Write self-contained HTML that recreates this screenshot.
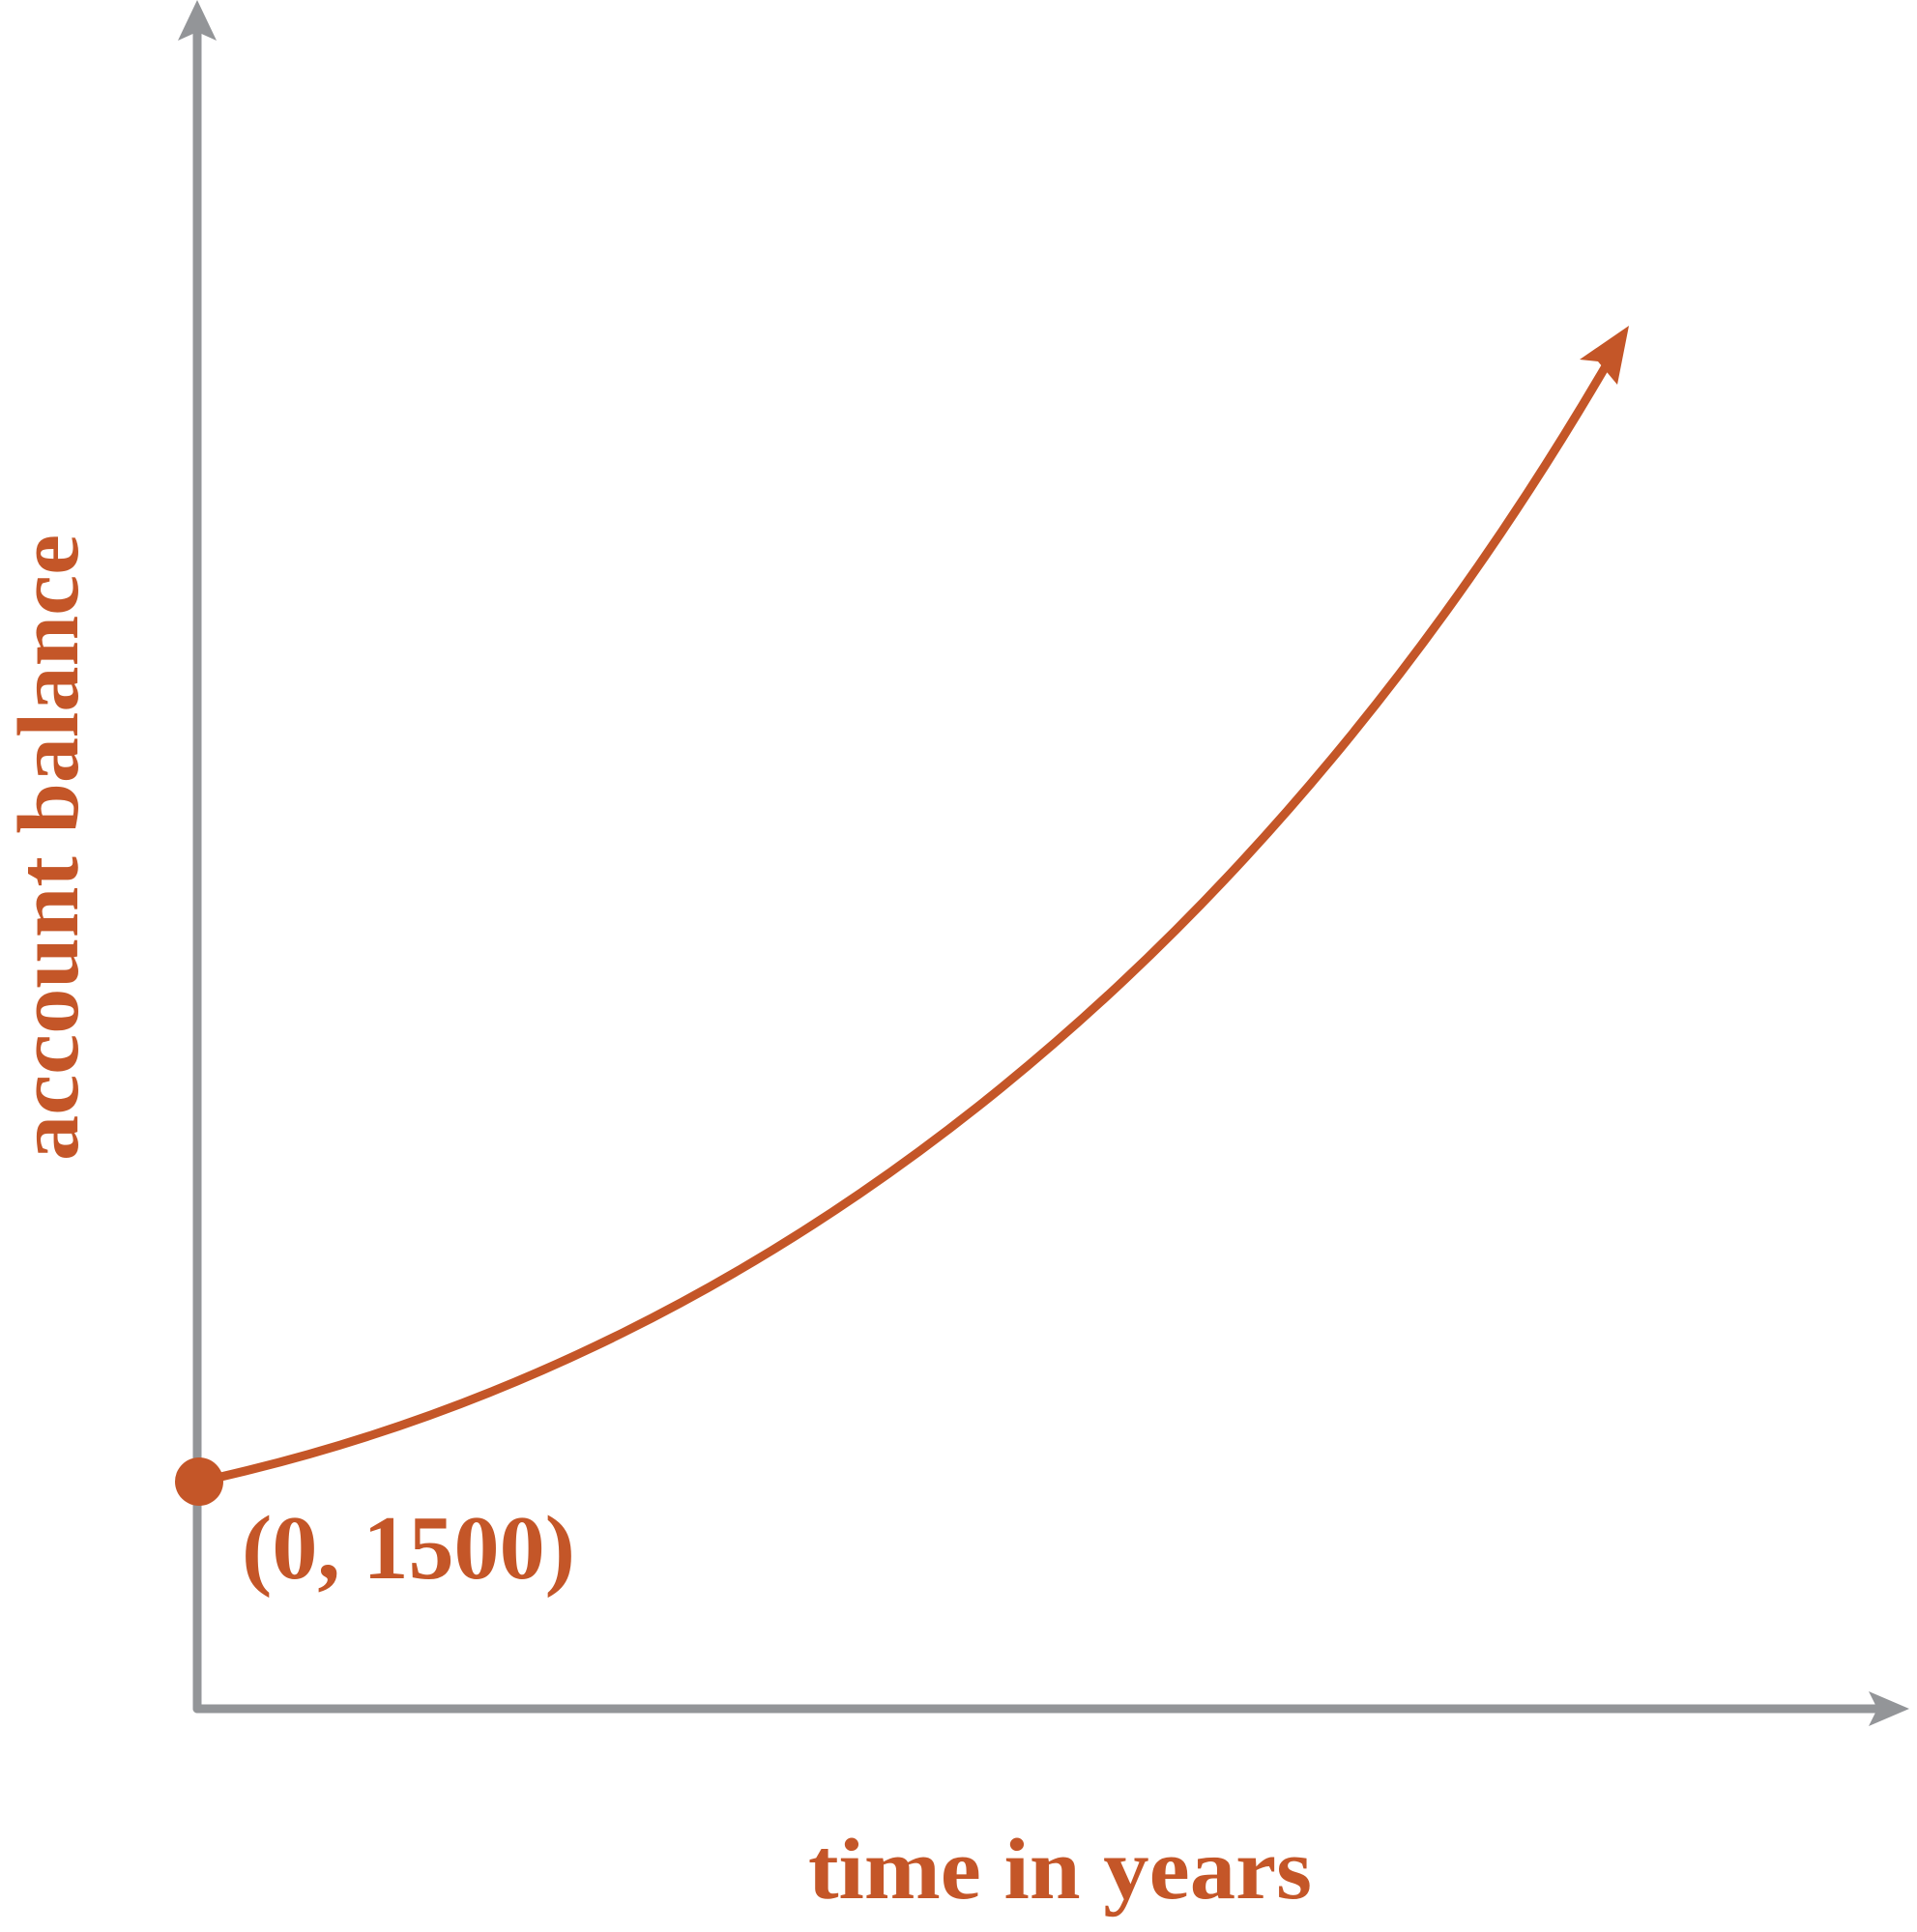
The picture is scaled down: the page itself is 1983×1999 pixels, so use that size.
<!DOCTYPE html>
<html><head><meta charset="utf-8"><style>html,body{margin:0;padding:0;background:#fff}svg{display:block}</style></head>
<body>
<svg width="1983" height="1999" viewBox="0 0 1983 1999" xmlns="http://www.w3.org/2000/svg">
<g stroke="#939598" stroke-width="9" fill="none" stroke-linecap="round">
<line x1="204" y1="30" x2="204" y2="1768"/>
<line x1="204" y1="1768" x2="1950" y2="1768"/>
</g>
<polygon points="204,0 184,42 204,33 224,42" fill="#939598"/>
<polygon points="1975,1768 1933,1750 1942,1768 1933,1786" fill="#939598"/>
<path d="M206,1533 C820,1400 1320,965 1665,372" stroke="#c45628" stroke-width="9" fill="none"/>
<polygon points="1685,337 1634,372 1653,374 1673,398" fill="#c45628"/>
<circle cx="206" cy="1533" r="25" fill="#c45628"/>
<g fill="#c45628" font-family="Liberation Serif, serif" font-weight="bold">
<text x="250" y="1633" font-size="94" textLength="345" lengthAdjust="spacingAndGlyphs">(0, 1500)</text>
<text x="836" y="1964" font-size="90" textLength="521" lengthAdjust="spacingAndGlyphs">time in years</text>
<text transform="translate(80,1201) rotate(-90)" x="0" y="0" font-size="90" textLength="648" lengthAdjust="spacingAndGlyphs">account balance</text>
</g>
</svg>
</body></html>
